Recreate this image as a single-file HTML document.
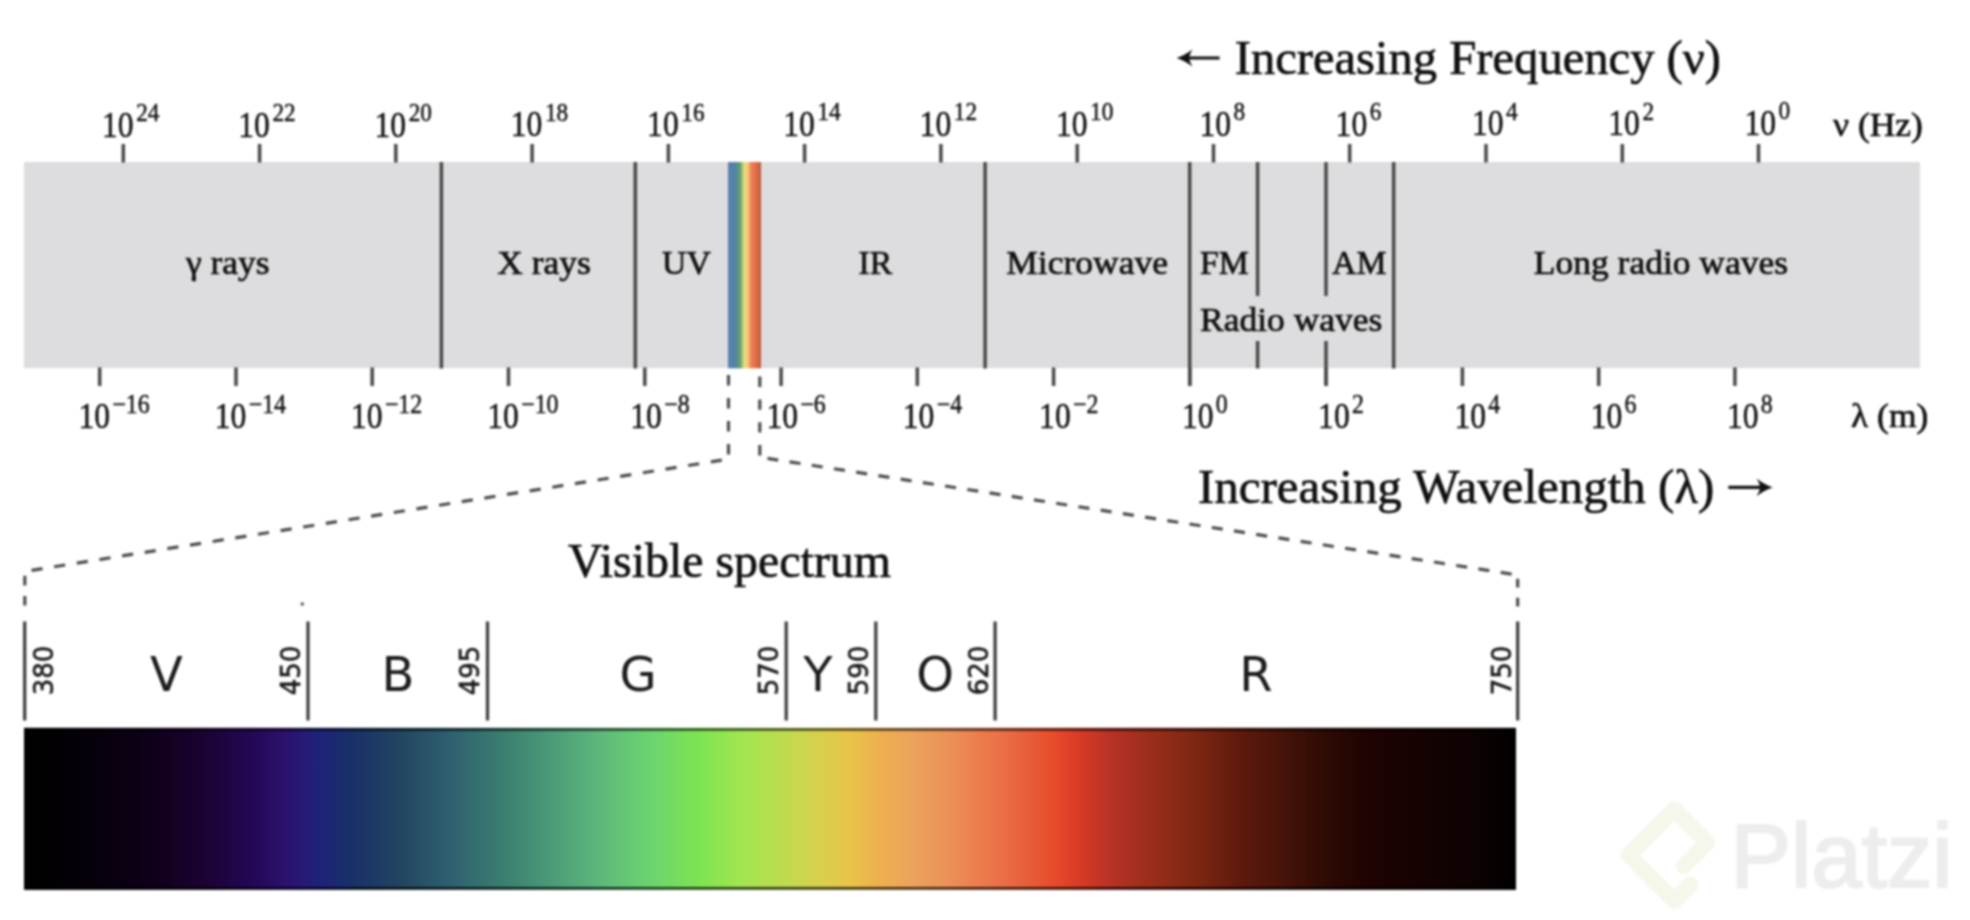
<!DOCTYPE html>
<html lang="en"><head><meta charset="utf-8"><title>Electromagnetic spectrum</title>
<style>
html,body{margin:0;padding:0;background:#fff;}
body{width:1970px;height:920px;overflow:hidden;position:relative;}
svg{display:block;position:absolute;left:0;top:0;filter:blur(1px);}
.s{font-family:"Liberation Serif", serif;fill:#101010;stroke:#101010;stroke-width:0.7px;}
.n{stroke-width:0.45px;}
.m{fill:#141414;stroke:#141414;stroke-width:0.6px;}
.d{font-family:"DejaVu Sans", "Liberation Sans", sans-serif;fill:#1c1c1c;}
</style></head><body>
<svg width="1970" height="920" viewBox="0 0 1970 920">
<defs>
<linearGradient id="mini" x1="0" x2="1" y1="0" y2="0">
<stop offset="0" stop-color="#5a7fb0"/>
<stop offset="0.22" stop-color="#5084a4"/>
<stop offset="0.36" stop-color="#5f9c70"/>
<stop offset="0.5" stop-color="#e8e07c"/>
<stop offset="0.6" stop-color="#f4c878"/>
<stop offset="0.7" stop-color="#ee8054"/>
<stop offset="0.86" stop-color="#e06a48"/>
<stop offset="1" stop-color="#b85a3c"/>
</linearGradient>
<linearGradient id="spec" gradientUnits="userSpaceOnUse" x1="24" x2="1516" y1="0" y2="0">
<stop offset="0.0000" stop-color="#000000"/>
<stop offset="0.0174" stop-color="#020003"/>
<stop offset="0.0509" stop-color="#07000c"/>
<stop offset="0.0845" stop-color="#0e0019"/>
<stop offset="0.1180" stop-color="#1a0230"/>
<stop offset="0.1515" stop-color="#240754"/>
<stop offset="0.1783" stop-color="#2b1370"/>
<stop offset="0.1984" stop-color="#1e237a"/>
<stop offset="0.2185" stop-color="#183068"/>
<stop offset="0.2520" stop-color="#224560"/>
<stop offset="0.2855" stop-color="#2e6070"/>
<stop offset="0.3190" stop-color="#3a7c70"/>
<stop offset="0.3525" stop-color="#4a9a78"/>
<stop offset="0.3861" stop-color="#5db87a"/>
<stop offset="0.4196" stop-color="#6bd470"/>
<stop offset="0.4531" stop-color="#7ee452"/>
<stop offset="0.4799" stop-color="#a0e650"/>
<stop offset="0.5067" stop-color="#bcdc50"/>
<stop offset="0.5335" stop-color="#d8d04c"/>
<stop offset="0.5536" stop-color="#e8c448"/>
<stop offset="0.5737" stop-color="#eeb050"/>
<stop offset="0.5938" stop-color="#eca45c"/>
<stop offset="0.6206" stop-color="#ec9058"/>
<stop offset="0.6408" stop-color="#ec7c4c"/>
<stop offset="0.6542" stop-color="#ec7048"/>
<stop offset="0.6743" stop-color="#e85c38"/>
<stop offset="0.6910" stop-color="#e84a2c"/>
<stop offset="0.7078" stop-color="#d83a24"/>
<stop offset="0.7279" stop-color="#b83228"/>
<stop offset="0.7547" stop-color="#9a2e1a"/>
<stop offset="0.7882" stop-color="#7a2612"/>
<stop offset="0.8150" stop-color="#5e1a0c"/>
<stop offset="0.8418" stop-color="#48140a"/>
<stop offset="0.8686" stop-color="#300c04"/>
<stop offset="0.9021" stop-color="#1e0202"/>
<stop offset="0.9357" stop-color="#160202"/>
<stop offset="0.9759" stop-color="#0c0202"/>
<stop offset="0.9926" stop-color="#050000"/>
<stop offset="1.0000" stop-color="#000000"/>
</linearGradient>
</defs>
<rect x="24" y="162" width="1896" height="206" fill="#dddcde"/>
<rect x="728" y="162" width="33" height="206.3" fill="url(#mini)"/>
<g stroke="#484848" stroke-width="3.5" stroke-linecap="butt" fill="none">
<line x1="123.3" y1="144" x2="123.3" y2="162.5"/>
<line x1="259.6" y1="144" x2="259.6" y2="162.5"/>
<line x1="395.8" y1="144" x2="395.8" y2="162.5"/>
<line x1="532.1" y1="144" x2="532.1" y2="162.5"/>
<line x1="668.4" y1="144" x2="668.4" y2="162.5"/>
<line x1="804.6" y1="144" x2="804.6" y2="162.5"/>
<line x1="940.9" y1="144" x2="940.9" y2="162.5"/>
<line x1="1077.2" y1="144" x2="1077.2" y2="162.5"/>
<line x1="1213.5" y1="144" x2="1213.5" y2="162.5"/>
<line x1="1349.7" y1="144" x2="1349.7" y2="162.5"/>
<line x1="1486.0" y1="144" x2="1486.0" y2="162.5"/>
<line x1="1622.3" y1="144" x2="1622.3" y2="162.5"/>
<line x1="1758.5" y1="144" x2="1758.5" y2="162.5"/>
<line x1="99.7" y1="367.5" x2="99.7" y2="386"/>
<line x1="236.0" y1="367.5" x2="236.0" y2="386"/>
<line x1="372.2" y1="367.5" x2="372.2" y2="386"/>
<line x1="508.5" y1="367.5" x2="508.5" y2="386"/>
<line x1="644.8" y1="367.5" x2="644.8" y2="386"/>
<line x1="781.1" y1="367.5" x2="781.1" y2="386"/>
<line x1="917.3" y1="367.5" x2="917.3" y2="386"/>
<line x1="1053.6" y1="367.5" x2="1053.6" y2="386"/>
<line x1="1189.9" y1="367.5" x2="1189.9" y2="386"/>
<line x1="1326.1" y1="367.5" x2="1326.1" y2="386"/>
<line x1="1462.4" y1="367.5" x2="1462.4" y2="386"/>
<line x1="1598.7" y1="367.5" x2="1598.7" y2="386"/>
<line x1="1734.9" y1="367.5" x2="1734.9" y2="386"/>
<line x1="441.4" y1="162" x2="441.4" y2="368.5"/>
<line x1="635.3" y1="162" x2="635.3" y2="368.5"/>
<line x1="985.1" y1="162" x2="985.1" y2="368.5"/>
<line x1="1393.7" y1="162" x2="1393.7" y2="368.5"/>
<line x1="1189.7" y1="162" x2="1189.7" y2="386"/>
<line x1="1257.6" y1="162" x2="1257.6" y2="296"/>
<line x1="1257.6" y1="341" x2="1257.6" y2="368.5"/>
<line x1="1326" y1="162" x2="1326" y2="296"/>
<line x1="1326" y1="341" x2="1326" y2="386"/>
</g>
<text class="s n" font-size="35.7" transform="translate(102.0 136.8) scale(0.885 1.0)">10</text><text class="s n" font-size="25" transform="translate(136.2 121.1) scale(0.93 1.0)">24</text>
<text class="s n" font-size="35.7" transform="translate(238.3 136.7) scale(0.885 1.0)">10</text><text class="s n" font-size="25" transform="translate(272.5 121.0) scale(0.93 1.0)">22</text>
<text class="s n" font-size="35.7" transform="translate(374.5 136.5) scale(0.885 1.0)">10</text><text class="s n" font-size="25" transform="translate(408.7 120.8) scale(0.93 1.0)">20</text>
<text class="s n" font-size="35.7" transform="translate(510.8 136.4) scale(0.885 1.0)">10</text><text class="s n" font-size="25" transform="translate(545.0 120.7) scale(0.93 1.0)">18</text>
<text class="s n" font-size="35.7" transform="translate(647.1 136.2) scale(0.885 1.0)">10</text><text class="s n" font-size="25" transform="translate(681.3 120.5) scale(0.93 1.0)">16</text>
<text class="s n" font-size="35.7" transform="translate(783.3 136.1) scale(0.885 1.0)">10</text><text class="s n" font-size="25" transform="translate(817.5 120.4) scale(0.93 1.0)">14</text>
<text class="s n" font-size="35.7" transform="translate(919.6 136.0) scale(0.885 1.0)">10</text><text class="s n" font-size="25" transform="translate(953.8 120.3) scale(0.93 1.0)">12</text>
<text class="s n" font-size="35.7" transform="translate(1055.9 135.8) scale(0.885 1.0)">10</text><text class="s n" font-size="25" transform="translate(1090.1 120.1) scale(0.93 1.0)">10</text>
<text class="s n" font-size="35.7" transform="translate(1199.4 135.7) scale(0.885 1.0)">10</text><text class="s n" font-size="25" transform="translate(1233.5 120.0) scale(0.93 1.0)">8</text>
<text class="s n" font-size="35.7" transform="translate(1335.6 135.5) scale(0.885 1.0)">10</text><text class="s n" font-size="25" transform="translate(1369.8 119.8) scale(0.93 1.0)">6</text>
<text class="s n" font-size="35.7" transform="translate(1471.9 135.4) scale(0.885 1.0)">10</text><text class="s n" font-size="25" transform="translate(1506.1 119.7) scale(0.93 1.0)">4</text>
<text class="s n" font-size="35.7" transform="translate(1608.2 135.3) scale(0.885 1.0)">10</text><text class="s n" font-size="25" transform="translate(1642.4 119.6) scale(0.93 1.0)">2</text>
<text class="s n" font-size="35.7" transform="translate(1744.4 135.1) scale(0.885 1.0)">10</text><text class="s n" font-size="25" transform="translate(1778.6 119.4) scale(0.93 1.0)">0</text>
<text class="s n" font-size="35.7" transform="translate(78.5 427.6) scale(0.885 1.0)">10</text><text class="s n" font-size="27" transform="translate(112.4 412.9) scale(0.885 1.0)">−16</text>
<text class="s n" font-size="35.7" transform="translate(214.8 427.6) scale(0.885 1.0)">10</text><text class="s n" font-size="27" transform="translate(248.7 412.9) scale(0.885 1.0)">−14</text>
<text class="s n" font-size="35.7" transform="translate(351.0 427.6) scale(0.885 1.0)">10</text><text class="s n" font-size="27" transform="translate(384.9 412.9) scale(0.885 1.0)">−12</text>
<text class="s n" font-size="35.7" transform="translate(487.3 427.6) scale(0.885 1.0)">10</text><text class="s n" font-size="27" transform="translate(521.2 412.9) scale(0.885 1.0)">−10</text>
<text class="s n" font-size="35.7" transform="translate(630.3 427.6) scale(0.885 1.0)">10</text><text class="s n" font-size="27" transform="translate(664.2 412.9) scale(0.885 1.0)">−8</text>
<text class="s n" font-size="35.7" transform="translate(766.5 427.6) scale(0.885 1.0)">10</text><text class="s n" font-size="27" transform="translate(800.4 412.9) scale(0.885 1.0)">−6</text>
<text class="s n" font-size="35.7" transform="translate(902.8 427.6) scale(0.885 1.0)">10</text><text class="s n" font-size="27" transform="translate(936.7 412.9) scale(0.885 1.0)">−4</text>
<text class="s n" font-size="35.7" transform="translate(1039.1 427.6) scale(0.885 1.0)">10</text><text class="s n" font-size="27" transform="translate(1073.0 412.9) scale(0.885 1.0)">−2</text>
<text class="s n" font-size="35.7" transform="translate(1181.9 427.6) scale(0.885 1.0)">10</text><text class="s n" font-size="27" transform="translate(1215.7 412.9) scale(0.885 1.0)">0</text>
<text class="s n" font-size="35.7" transform="translate(1318.1 427.6) scale(0.885 1.0)">10</text><text class="s n" font-size="27" transform="translate(1352.0 412.9) scale(0.885 1.0)">2</text>
<text class="s n" font-size="35.7" transform="translate(1454.4 427.6) scale(0.885 1.0)">10</text><text class="s n" font-size="27" transform="translate(1488.3 412.9) scale(0.885 1.0)">4</text>
<text class="s n" font-size="35.7" transform="translate(1590.7 427.6) scale(0.885 1.0)">10</text><text class="s n" font-size="27" transform="translate(1624.6 412.9) scale(0.885 1.0)">6</text>
<text class="s n" font-size="35.7" transform="translate(1726.9 427.6) scale(0.885 1.0)">10</text><text class="s n" font-size="27" transform="translate(1760.8 412.9) scale(0.885 1.0)">8</text>
<text class="s" font-size="34.3" transform="translate(1833.0 135.6) scale(1.035 1.0)">ν (Hz)</text>
<text class="s" font-size="34.3" transform="translate(1851.0 427.0) scale(1.035 1.0)">λ (m)</text>
<text class="s" font-size="34.3" transform="translate(186.0 274.3) scale(1.035 1.0)">γ rays</text>
<text class="s" font-size="34.3" transform="translate(497.3 274.3) scale(1.035 1.0)">X rays</text>
<text class="s" font-size="34.3" transform="translate(662.0 274.3) scale(0.985 1.0)">UV</text>
<text class="s" font-size="34.3" transform="translate(858.5 274.3) scale(0.985 1.0)">IR</text>
<text class="s" font-size="34.3" transform="translate(1006.3 274.3) scale(1.035 1.0)">Microwave</text>
<text class="s" font-size="34.3" transform="translate(1200.0 274.3) scale(0.985 1.0)">FM</text>
<text class="s" font-size="34.3" transform="translate(1332.0 274.3) scale(0.985 1.0)">AM</text>
<text class="s" font-size="34.3" transform="translate(1533.8 274.3) scale(1.035 1.0)">Long radio waves</text>
<text class="s" font-size="34.3" transform="translate(1200.0 330.5) scale(1.035 1.0)">Radio waves</text>
<text class="s" font-size="48" transform="translate(1234.7 74.0) scale(1.013 1.0)">Increasing Frequency (ν)</text>
<text class="s" font-size="48" transform="translate(1198.0 502.5) scale(1.02 1.0)">Increasing Wavelength (λ)</text>
<g fill="#101010" stroke="none">
<path d="M1176.6 58 C1184 55.5 1189 52 1192.5 49.2 C1190.5 53 1189.5 55.5 1189.4 56.4 H1219.6 V59.6 H1189.4 C1189.5 60.5 1190.5 63 1192.5 66.8 C1189 64 1184 60.5 1176.6 58 Z"/>
<path d="M1772.6 487.4 C1765.2 484.9 1760.2 481.4 1756.7 478.6 C1758.7 482.4 1759.7 484.9 1759.8 485.8 H1728.4 V489 H1759.8 C1759.7 489.9 1758.7 492.4 1756.7 496.2 C1760.2 493.4 1765.2 489.9 1772.6 487.4 Z"/>
</g>
<g stroke="#4c4c4c" stroke-width="3.2" fill="none">
<path d="M728.5 374.9 V456.2" stroke-dasharray="10.6 12.4"/>
<path d="M759.8 376.6 V456.5" stroke-dasharray="10.4 12.4"/>
<path d="M31.5 570.4 L722 460.1" stroke-dasharray="11.2 11.73"/>
<path d="M1511.6 574.1 L767.5 458.4" stroke-dasharray="11.1 11.39"/>
<path d="M24.8 575.8 V607" stroke-dasharray="9.6 10.6"/>
<path d="M1517.7 578.8 V607" stroke-dasharray="8.8 10.2"/>
</g>
<circle cx="302.3" cy="604" r="1.8" fill="#555"/>
<text class="s" font-size="48" transform="translate(568.0 577.0) scale(0.998 1.0)">Visible spectrum</text>
<g stroke="#404040" stroke-width="3.3" fill="none">
<line x1="24.7" y1="621.5" x2="24.7" y2="720.5"/>
<line x1="308" y1="621.5" x2="308" y2="720.5"/>
<line x1="487.5" y1="621.5" x2="487.5" y2="720.5"/>
<line x1="786.2" y1="621.5" x2="786.2" y2="720.5"/>
<line x1="875.8" y1="621.5" x2="875.8" y2="720.5"/>
<line x1="995.1" y1="621.5" x2="995.1" y2="720.5"/>
<line x1="1517.7" y1="621.5" x2="1517.7" y2="720.5"/>
</g>
<text class="d m" font-size="26" text-anchor="middle" transform="translate(53,670.5) rotate(-90)">380</text>
<text class="d m" font-size="26" text-anchor="middle" transform="translate(300.3,670.5) rotate(-90)">450</text>
<text class="d m" font-size="26" text-anchor="middle" transform="translate(479.2,670.5) rotate(-90)">495</text>
<text class="d m" font-size="26" text-anchor="middle" transform="translate(778.3,670.5) rotate(-90)">570</text>
<text class="d m" font-size="26" text-anchor="middle" transform="translate(868.2,670.5) rotate(-90)">590</text>
<text class="d m" font-size="26" text-anchor="middle" transform="translate(987.5,670.5) rotate(-90)">620</text>
<text class="d m" font-size="26" text-anchor="middle" transform="translate(1510.5,670.5) rotate(-90)">750</text>
<text class="d" font-size="48" text-anchor="middle" x="166.5" y="691">V</text>
<text class="d" font-size="48" text-anchor="middle" x="398" y="691">B</text>
<text class="d" font-size="48" text-anchor="middle" x="638" y="691">G</text>
<text class="d" font-size="48" text-anchor="middle" x="818" y="691">Y</text>
<text class="d" font-size="48" text-anchor="middle" x="935.2" y="691">O</text>
<text class="d" font-size="48" text-anchor="middle" x="1256" y="691">R</text>
<rect x="24" y="727.8" width="1492" height="162" fill="url(#spec)"/>
<rect x="24" y="728.3" width="1492" height="2.4" fill="#000" fill-opacity="0.68"/>
<rect x="24" y="887" width="1492" height="2.6" fill="#000" fill-opacity="0.72"/>
<g>
<path d="M1684 866 L1707.4 842.5 L1674.4 809.5 L1628.7 855.1 L1674.4 900.8 L1690.5 884.6" stroke="#f4f7e9" stroke-width="16" fill="none" stroke-linecap="round" stroke-linejoin="round"/>
<text x="1730.5" y="887.2" font-family="&quot;Liberation Sans&quot;, sans-serif" font-size="90" fill="#ededed" stroke="#ededed" stroke-width="2.2" textLength="222" lengthAdjust="spacingAndGlyphs">Platzi</text>
</g>
</svg>
</body></html>
